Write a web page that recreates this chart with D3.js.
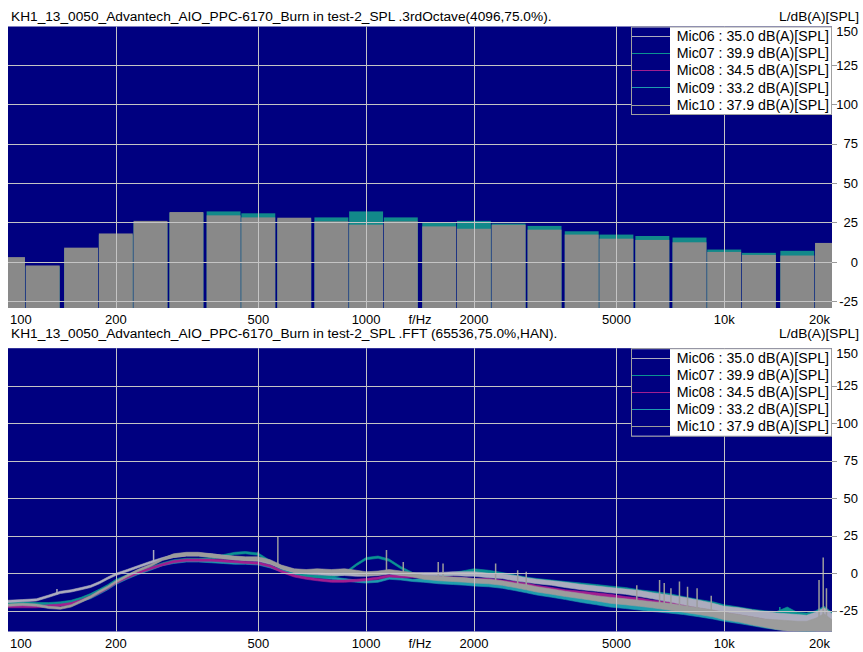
<!DOCTYPE html>
<html>
<head>
<meta charset="utf-8">
<script src="https://cdn.jsdelivr.net/npm/d3@7"></script>
<style>
  body { margin: 0; background: #fff; }
  svg { display: block; }
  text { font-family: "Liberation Sans", Arial, sans-serif; font-size: 13px; fill: #000; }
  text.title { font-size: 13.7px; }
  text.legend { font-size: 14.2px; }
</style>
</head>
<body>
<svg id="chart" width="863" height="652"></svg>
<script>
// ---- Microphones and their A-weighted overall levels ----
const micNames = ["Mic06", "Mic07", "Mic08", "Mic09", "Mic10"];
const micLevels = ["35.0", "39.9", "34.5", "33.2", "37.9"];
const micColors = ["#acacbe", "#0b9292", "#a21e90", "#1e9cae", "#9c9c9c"];

// ---- Frequency axis ----
const freqTicks = [100, 200, 500, 1000, 2000, 5000, 10000, 20000];
const freqTickLabels = ["100", "200", "500", "1000", "2000", "5000", "10k", "20k"];
const levelTicks = [-25, 0, 25, 50, 75, 100, 125, 150];

// ---- 1/3-octave spectrum (dB(A)) ----
const bandCenters = [100, 125, 160, 200, 250, 315, 400, 500, 630, 800, 1000, 1250,
  1600, 2000, 2500, 3150, 4000, 5000, 6300, 8000, 10000, 12500, 16000, 20000];
const mic07Band = [2, -3, 8, 17, 25, 31, 32, 30.8, 27, 28.2, 32, 28.2,
  25, 26, 24.3, 22.8, 19.4, 17.3, 16.4, 15.4, 7.8, 5.7, 7, 10];
const mic10Band = [3, -2.3, 9, 18, 26, 31.6, 29.5, 28.2, 28, 25.7, 23.6, 25.7,
  22.5, 21, 23.5, 20.4, 17.3, 14.7, 13.9, 12.4, 6.3, 4.4, 4, 12];

// ---- FFT spectrum: per-pixel min / max envelope of each microphone (dB(A)) ----
const fftFreq = [100, 110, 120, 130, 140, 150, 160, 170, 180, 190,
  200, 215, 230, 250, 270, 290, 315, 340, 370, 400,
  430, 460, 500, 540, 580, 630, 680, 730, 800, 870,
  940, 1000, 1080, 1160, 1250, 1350, 1450, 1600, 1750, 1900,
  2000, 2200, 2400, 2600, 2800, 3000, 3300, 3600, 4000, 4400,
  4800, 5300, 5800, 6300, 7000, 7700, 8500, 9300, 10000, 11000,
  12000, 13000, 14000, 15000, 16000, 17000, 18000, 19000, 20000];

const mic06Lo = [-19.5, -19, -18.5, -16, -13.5, -12.5, -11, -9.5, -7, -4,
  -1.5, 1, 3.5, 6.5, 9, 10.5, 11.5, 11.5, 11, 10,
  9, 8.5, 8, 6, 3, 0.5, -0.5, -1, -1.5, -1.5,
  -2, -2, -1.5, -0.5, -1.5, -2, -1.5, -1.5, -1.5, -2,
  -2, -3, -3.5, -5, -6, -7, -8, -9.5, -11, -12,
  -13, -14, -15.5, -17, -19, -21, -23, -24.5, -26, -27.5,
  -29, -30.5, -31.5, -32, -32.5, -33, -32, -30, -32];
const mic06Hi = [-18, -17.5, -17, -14.5, -12, -11, -9.5, -8, -5.5, -2.5,
  0, 2.5, 5, 8, 10.5, 12.5, 13.5, 13.5, 13, 12,
  11, 10.5, 10, 8, 5, 2.5, 1.5, 1, 0.5, 0.5,
  0, 0, 0.5, 1.5, 0.5, 0.5, 0.5, 0.5, 1, 1,
  1, 0, -0.5, -1.5, -3, -4, -5, -6, -7.5, -8.5,
  -9.5, -10.5, -11.5, -13, -14.5, -16, -18, -20, -22, -23,
  -24.5, -25.5, -26.5, -27, -27.5, -28, -26, -23, -27];

const mic07Lo = [-20.5, -20.5, -21, -21, -20.5, -19.5, -17.5, -15, -12, -9,
  -5.5, -2.5, 0.5, 3, 5.5, 7.5, 8.5, 8.5, 9, 11,
  12.5, 13, 12, 7, 3, 0, -2, -3, -3, -1,
  5, 9, 10, 8, 3, -1, -3, -3, -1, -0.5,
  -0.5, -1.5, -3, -4.5, -5.5, -6.5, -7.5, -9, -10, -11,
  -12, -13, -14.5, -16, -18, -20, -22, -23.5, -25, -26.5,
  -28, -29, -30, -29, -31, -31.5, -30.5, -29, -31];
const mic07Hi = [-18.5, -19, -19.5, -19.5, -19, -18, -16, -13.5, -10.5, -7.5,
  -4, -1, 2, 4.5, 7, 9, 10, 10, 10.5, 12.5,
  14, 14.5, 13.5, 8.5, 4.5, 1.5, -0.5, -1.5, -1.5, 0.5,
  6.5, 10.5, 11.5, 9.5, 4.5, 0.5, -1.5, -1.5, 0.5, 2,
  3, 2, 0.5, -1, -2.5, -3.5, -4.5, -5.5, -6.5, -7.5,
  -8.5, -9.5, -11, -12, -13.5, -15.5, -17.5, -19, -21, -22.5,
  -24, -25, -25.5, -22.5, -26, -26.5, -25, -22, -26];

const mic08Lo = [-23, -23, -23, -22.5, -22, -21, -19, -16.5, -13.5, -10.5,
  -7, -3.5, -0.5, 2.5, 5, 7, 8, 8, 8, 7.5,
  7, 6.5, 6, 4, 0.5, -2.5, -4, -5, -6, -6,
  -5.5, -5, -4, -2.5, -3, -3, -3, -3.5, -4, -4.5,
  -5, -5, -6, -7, -8, -9.5, -11, -12.5, -14, -15,
  -16, -17.5, -18.5, -20, -21.5, -23, -24.5, -26, -28, -30,
  -31.5, -33, -34, -34.5, -35, -35.5, -35, -33, -35];
const mic08Hi = [-21.5, -21.5, -21.5, -21, -20.5, -19.5, -17.5, -15, -12, -9,
  -5.5, -2, 1, 4, 6.5, 8.5, 9.5, 9.5, 9.5, 9,
  8.5, 8, 7.5, 5.5, 2, -1, -2.5, -3.5, -4.5, -4.5,
  -4, -3.5, -2.5, -1, -1.5, -1.5, -1.5, -2, -2.5, -3,
  -3.5, -3.5, -4.5, -5.5, -6.5, -8, -9.5, -11, -12, -13,
  -14, -15.5, -16.5, -18, -19, -20.5, -22, -23.5, -25.5, -27,
  -28.5, -30, -31, -31.5, -32, -32.5, -31, -29, -32];

const mic09Lo = [-21.5, -21.5, -21.5, -22, -21.5, -20.5, -19, -17, -14, -11,
  -7.5, -4, -1, 2, 5, 6.5, 7.5, 7.5, 7, 6.5,
  6, 6, 5.5, 3.5, 1, -1, -2.5, -3, -4, -5,
  -6, -6.5, -6, -4, -4.5, -5.5, -6, -7, -7.5, -8,
  -8.5, -9, -10, -11.5, -13, -14.5, -16, -17.5, -19.5, -21,
  -22.5, -23.5, -24.5, -25.5, -26.5, -27.5, -29, -30.5, -32, -33.5,
  -35, -36.5, -37.5, -38, -38.5, -39, -38.5, -37, -38.5];
const mic09Hi = [-20, -20, -20, -20.5, -20, -19, -17.5, -15.5, -12.5, -9.5,
  -6, -2.5, 0.5, 3.5, 6.5, 8, 9, 9, 8.5, 8,
  7.5, 7.5, 7, 5, 2.5, 0.5, -1, -1.5, -2.5, -3.5,
  -4.5, -5, -4.5, -2.5, -3, -4, -3.5, -4.5, -5, -5.5,
  -6, -6.5, -7.5, -9, -10.5, -12, -13.5, -15, -16.5, -18,
  -19.5, -20.5, -21.5, -22, -23, -24.5, -26, -27.5, -29, -30.5,
  -32, -33, -34, -34.5, -35, -35, -34, -31, -34];

const mic10Lo = [-22, -21.5, -22, -23.5, -24, -22.5, -19.5, -16.5, -13, -10,
  -6.5, -2.5, 1, 4.5, 8.5, 10.5, 11.5, 11.5, 10.5, 9.5,
  9, 8.5, 8.5, 6.5, 3, 0.5, 0, 0.5, 0, 0.5,
  -0.5, -1.5, -1, 0, -1, -2.5, -4, -5, -5.5, -6,
  -6.5, -7, -8, -9.5, -11, -12.5, -14, -15.5, -17, -18.5,
  -20, -21, -22, -23, -24.5, -26, -27.5, -29, -31, -32.5,
  -34.5, -36, -37.5, -38.5, -39, -39, -39, -39, -39];
const mic10Hi = [-20.5, -20, -20.5, -22, -22.5, -21, -18, -15, -11.5, -8.5,
  -5, -1, 2.5, 6, 10, 13, 14, 14, 13, 12,
  11.5, 11, 11, 9, 5.5, 3, 2.5, 3, 2.5, 3,
  2, 1, 1.5, 2.5, 1.5, 0.5, -1.5, -2, -2.5, -3,
  -3.5, -4, -5, -6.5, -7.5, -9, -10.5, -12, -13.5, -15,
  -16, -17, -18, -19, -20, -21.5, -23, -24.5, -26, -27.5,
  -29, -30.5, -31, -31.5, -32, -32, -30, -27, -31];

// ---- Narrow tonal peaks standing out of the FFT envelope ----
const mic06PeakFreq = [137, 255];
const mic06PeakLevel = [-10.5, 15.5];
const mic07PeakFreq = [14300];
const mic07PeakLevel = [-22.5];
const mic10PeakFreq = [500, 567, 1140, 1270, 1590, 1640, 2300, 2650, 2800,
  5700, 6600, 6800, 7100, 7500, 7900, 8400, 9200, 18400, 18900, 19300];
const mic10PeakLevel = [14.5, 24.5, 15.5, 7.5, 7.5, 6.5, 6.5, 2, 1,
  -8, -4.5, -6.5, -10, -5.5, -9, -10, -15, -4.5, 10.5, -10];

// ---- Layout ----
const svg = d3.select("#chart");
const plotL = 8, plotR = 832;
const x = d3.scaleLog().domain([100, 20000]).range([plotL, plotR]);

const panels = [
  { title: "KH1_13_0050_Advantech_AIO_PPC-6170_Burn in test-2_SPL .3rdOctave(4096,75.0%).",
    titleY: 20.5, top: 26.5, bottom: 308, y: d3.scaleLinear().domain([-29.3, 150]).range([308, 25.5]),
    labelY: 323.5, kind: "bands" },
  { title: "KH1_13_0050_Advantech_AIO_PPC-6170_Burn in test-2_SPL .FFT (65536,75.0%,HAN).",
    titleY: 337.7, top: 348.2, bottom: 631.5, y: d3.scaleLinear().domain([-38.8, 150]).range([631.5, 348.2]),
    labelY: 647.5, kind: "fft" }
];

// drawing order: the grey traces end up on top
const fftSeries = [
  { lo: mic09Lo, hi: mic09Hi, color: micColors[3], peaks: [], peakLevels: [] },
  { lo: mic07Lo, hi: mic07Hi, color: micColors[1], peaks: mic07PeakFreq, peakLevels: mic07PeakLevel },
  { lo: mic08Lo, hi: mic08Hi, color: micColors[2], peaks: [], peakLevels: [] },
  { lo: mic06Lo, hi: mic06Hi, color: micColors[0], peaks: mic06PeakFreq, peakLevels: mic06PeakLevel },
  { lo: mic10Lo, hi: mic10Hi, color: micColors[4], peaks: mic10PeakFreq, peakLevels: mic10PeakLevel }
];

panels.forEach((p, pi) => {
  const y = p.y;
  const g = svg.append("g");
  const clipId = "clip" + pi;
  svg.append("clipPath").attr("id", clipId)
    .append("rect").attr("x", plotL).attr("y", p.top)
    .attr("width", plotR - plotL).attr("height", p.bottom - p.top);

  // title and unit
  g.append("text").attr("class", "title").attr("x", 11).attr("y", p.titleY).text(p.title);
  g.append("text").attr("class", "title").attr("x", 859).attr("y", p.titleY)
    .attr("text-anchor", "end").text("L/dB(A)[SPL]");

  // plot background
  g.append("rect").attr("x", plotL).attr("y", p.top)
    .attr("width", plotR - plotL).attr("height", p.bottom - p.top).attr("fill", "#000080");

  const data = g.append("g").attr("clip-path", `url(#${clipId})`);

  if (p.kind === "bands") {
    const edge = Math.pow(2, 1 / 6);
    const drawBars = (vals, color) => {
      data.append("g").selectAll("rect").data(bandCenters).join("rect")
        .attr("x", f => x(f / edge) + 1)
        .attr("width", f => x(f * edge) - x(f / edge) - 2)
        .attr("y", (f, i) => y(vals[i]))
        .attr("height", (f, i) => p.bottom - y(vals[i]))
        .attr("fill", color);
    };
    drawBars(mic07Band, "#12898a");
    drawBars(mic10Band, "#898989");
  } else {
    const idx = d3.range(fftFreq.length);
    fftSeries.forEach(s => {
      const area = d3.area()
        .x(i => x(fftFreq[i]))
        .y0(i => y(s.lo[i]))
        .y1(i => y(s.hi[i]));
      data.append("path").datum(idx).attr("d", area)
        .attr("fill", s.color).attr("stroke", s.color).attr("stroke-width", 0.6);
      const base = d3.scaleLog().domain(fftFreq).range(s.hi);
      data.append("g").selectAll("line").data(s.peaks).join("line")
        .attr("x1", f => x(f)).attr("x2", f => x(f))
        .attr("y1", (f, i) => y(s.peakLevels[i]))
        .attr("y2", f => y(base(f)) + 2)
        .attr("stroke", s.color).attr("stroke-width", 1.5);
    });
  }

  // grid
  const grid = g.append("g").attr("stroke", "#c4c4c4").attr("stroke-width", 1);
  grid.selectAll("line.v").data(freqTicks.slice(1, -1)).join("line").attr("class", "v")
    .attr("x1", f => Math.round(x(f)) + 0.5).attr("x2", f => Math.round(x(f)) + 0.5)
    .attr("y1", p.top).attr("y2", p.bottom);
  grid.selectAll("line.h").data(levelTicks.slice(0, -1)).join("line").attr("class", "h")
    .attr("x1", plotL).attr("x2", plotR)
    .attr("y1", v => Math.round(y(v)) + 0.5).attr("y2", v => Math.round(y(v)) + 0.5);

  // right level axis
  const ax = g.append("g");
  ax.selectAll("line").data(levelTicks.slice(0, -1)).join("line")
    .attr("x1", plotR).attr("x2", plotR + 5)
    .attr("y1", v => Math.round(y(v)) + 0.5).attr("y2", v => Math.round(y(v)) + 0.5)
    .attr("stroke", "#9a9a9a");
  ax.selectAll("text").data(levelTicks).join("text")
    .attr("x", 858).attr("y", v => Math.max(y(v), p.top + 5))
    .attr("dy", "0.36em").attr("text-anchor", "end").text(v => v);

  // frequency labels
  const fl = g.append("g");
  fl.selectAll("text").data(freqTicks).join("text")
    .attr("x", (f, i) => i === 0 ? 10 : (i === freqTicks.length - 1 ? 830 : x(f)))
    .attr("y", p.labelY)
    .attr("text-anchor", (f, i) => i === 0 ? "start" : (i === freqTicks.length - 1 ? "end" : "middle"))
    .text((f, i) => freqTickLabels[i]);
  fl.append("text").attr("x", 420).attr("y", p.labelY).attr("text-anchor", "middle").text("f/Hz");

  // legend
  const lg = g.append("g");
  const legX = 631, legW = 200, legY = p.top, legH = 87.5, sampleW = 38;
  lg.append("rect").attr("x", legX + 0.5).attr("y", legY + 0.5).attr("width", legW).attr("height", legH)
    .attr("fill", "#fff").attr("stroke", "#a0a0a0");
  lg.append("rect").attr("x", legX + 1).attr("y", legY + 1).attr("width", sampleW).attr("height", legH - 1)
    .attr("fill", "#000080");
  micNames.forEach((m, i) => {
    const ry = legY + 9.3 + i * 17.2;
    lg.append("line").attr("x1", legX + 1).attr("x2", legX + 1 + sampleW)
      .attr("y1", Math.round(ry) + 0.5).attr("y2", Math.round(ry) + 0.5)
      .attr("stroke", micColors[i]).attr("stroke-width", 1);
    lg.append("text").attr("class", "legend").attr("x", 829).attr("y", ry).attr("dy", "0.36em")
      .attr("text-anchor", "end").text(`${m} : ${micLevels[i]} dB(A)[SPL]`);
  });
});
</script>
</body>
</html>
